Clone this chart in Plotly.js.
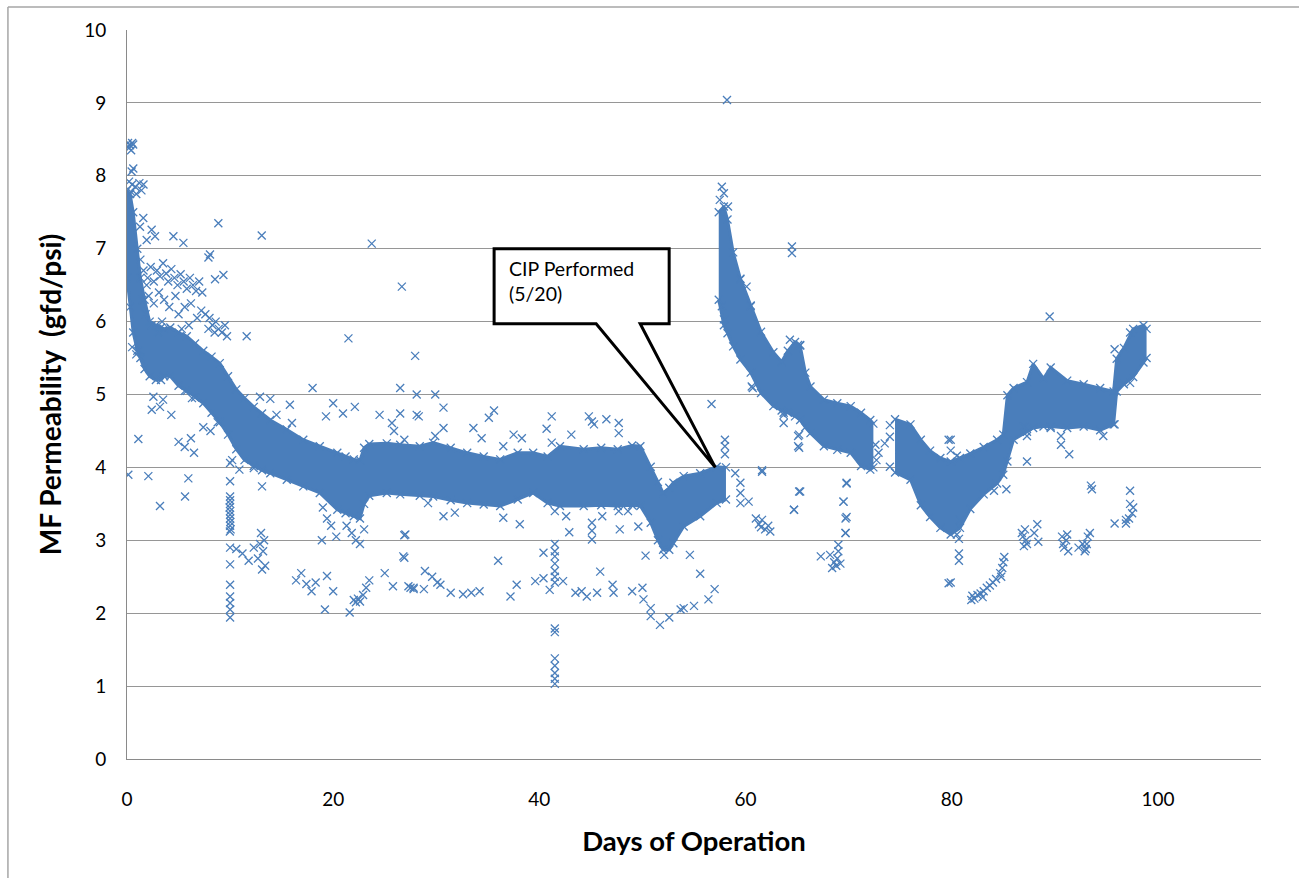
<!DOCTYPE html>
<html>
<head>
<meta charset="utf-8">
<script src="https://cdn.plot.ly/plotly-3.0.1.min.js"></script>
<style>html,body{margin:0;padding:0;background:#fff;}#chart{width:1299px;height:878px;}</style>
</head>
<body>
<div id="chart"></div>
<script>
// ---- Data ----
// Dense band before the CIP (days, upper / lower edge of permeability)
var bandA_days = [0.0,0.3,0.6,1.0,1.3,1.7,2.2,2.8,3.3,3.6,4.2,5.0,5.8,6.6,7.4,8.2,9.0,9.8,10.6,11.4,12.3,13.1,13.9,15.5,17.1,18.7,20.4,21.2,22.0,22.6,23.0,23.5,25.2,26.5,28.4,29.7,31.4,33.0,34.6,36.2,37.9,39.4,40.8,42.0,44.3,46.0,47.6,49.0,49.8,50.8,51.5,52.0,52.6,53.0,54.0,55.6,57.2,58.1];
var bandA_top  = [7.8,7.75,7.5,7.0,6.6,6.3,6.0,5.95,5.92,5.9,5.92,5.85,5.8,5.7,5.6,5.52,5.43,5.25,5.07,4.95,4.83,4.74,4.65,4.52,4.38,4.29,4.2,4.15,4.11,4.1,4.27,4.32,4.33,4.31,4.29,4.34,4.27,4.2,4.15,4.11,4.2,4.2,4.15,4.29,4.25,4.27,4.25,4.3,4.29,4.01,3.8,3.65,3.72,3.79,3.88,3.92,4.01,4.0];
var bandA_bot  = [6.6,6.2,5.85,5.6,5.5,5.35,5.25,5.2,5.2,5.25,5.25,5.12,5.05,4.96,4.88,4.75,4.62,4.45,4.25,4.1,4.02,3.96,3.92,3.83,3.74,3.65,3.42,3.37,3.33,3.3,3.5,3.61,3.65,3.63,3.61,3.6,3.55,3.51,3.49,3.47,3.56,3.65,3.51,3.47,3.47,3.48,3.47,3.48,3.47,3.24,3.0,2.87,2.87,2.96,3.19,3.33,3.51,3.56];
// Dense band right after the CIP
var bandB_days = [57.4,57.9,58.25,58.8,59.5,60.5,61.5,62.7,63.5,64.1,64.8,65.3,65.8,66.3,67.6,68.9,70.2,71.2,72.1,72.4];
var bandB_top  = [7.5,7.58,7.4,6.95,6.59,6.22,5.86,5.58,5.45,5.6,5.72,5.67,5.3,5.11,4.93,4.88,4.84,4.75,4.65,4.6];
var bandB_bot  = [6.3,5.95,5.84,5.66,5.48,5.3,5.02,4.84,4.78,4.75,4.7,4.65,4.55,4.47,4.29,4.24,4.2,4.02,3.97,4.0];
// Dense band from day 74.5 to the end
var bandC_days = [74.5,76.0,77.0,77.9,78.9,79.9,80.8,81.8,83.1,84.4,85.0,85.4,86.0,87.3,87.9,88.9,89.6,91.2,92.8,94.4,95.7,96.0,96.7,97.6,98.6,98.9];
var bandC_top  = [4.66,4.59,4.38,4.23,4.13,4.08,4.13,4.19,4.28,4.38,4.45,4.99,5.09,5.17,5.42,5.22,5.37,5.19,5.14,5.09,5.04,5.49,5.64,5.90,5.95,5.9];
var bandC_bot  = [3.93,3.83,3.48,3.32,3.17,3.08,3.17,3.43,3.63,3.78,3.9,4.08,4.38,4.49,4.54,4.56,4.56,4.54,4.56,4.51,4.59,5.04,5.14,5.24,5.44,5.5];

// Scattered readings before the CIP
var scatterPre_days = [0.1,0.3,0.5,0.2,0.4,0.6,0.05,0.61,0.45,0.2,0.5,0.8,1.2,1.6,0.4,0.9,1.4,
 8.86,13.07,23.74,26.66,21.48,11.61,27.95,1.58,2.39,2.72,1.26,1.91,4.5,5.47,8.05,9.35,8.54,7.9,
 1.3,1.6,2.0,2.3,2.6,2.9,3.2,3.5,3.8,4.0,4.3,4.6,4.9,5.2,5.5,5.8,6.1,6.4,6.7,7.0,7.3,2.1,2.6,3.1,3.6,4.1,4.7,5.0,5.6,6.2,6.8,7.2,7.6,8.0,8.3,8.6,8.9,9.2,9.5,9.7,7.9,8.5,2.4,3.0,3.4,1.8,1.5,1.9,6.0,5.3,
 0.5,0.9,1.2,2.56,3.2,4.3,3.5,2.4,1.1,0.13,2.07,3.2,5.63,5.95,5.0,5.6,6.2,6.5,7.4,8.1,8.8,5.6,6.3,
 10.0,10.0,10.0,10.0,10.0,10.05,9.95,10.0,10.02,10.0,9.98,10.0,10.0,10.0,10.0,10.0,10.0,10.0,10.0,10.0,
 10.6,11.2,11.8,12.3,12.7,13.0,13.2,13.4,13.1,12.9,13.3,13.1,10.9,12.3,10.2,
 16.4,16.9,17.4,17.9,18.3,19.4,19.2,20.0,21.6,22.0,22.2,22.4,22.6,22.9,23.2,23.5,25.0,25.8,27.5,27.8,26.8,27.0,
 19.0,19.4,19.8,20.3,18.9,21.3,21.8,22.2,22.6,23.0,
 18.0,20.0,20.95,22.1,19.3,24.5,26.5,26.5,25.7,25.9,28.1,28.1,13.9,15.8,16.0,14.5,12.9,
 29.9,30.7,28.3,30.7,29.9,26.9,33.6,34.4,35.1,35.6,37.5,38.3,36.5,41.2,40.7,43.1,41.2,44.8,45.3,46.5,47.7,47.7,45.1,56.7,58.0,58.0,58.0,
 30.7,31.8,29.2,36.5,38.1,41.5,42.6,42.9,45.1,45.1,45.1,46.1,47.7,47.8,48.6,49.6,26.9,26.9,36.0,
 41.5,41.5,41.5,41.5,41.5,41.5,41.5,40.4,42.3,41.0,41.5,41.5,41.5,41.5,41.5,41.5,41.5,
 27.3,27.8,28.8,28.9,29.6,30.1,30.4,31.4,32.6,33.4,34.2,37.2,37.8,39.6,40.4,43.5,44.1,44.6,45.6,45.9,47.1,47.2,49.0,50.0,50.1,50.8,50.8,51.7,52.6,53.7,54.0,55.0,56.4,57.0,55.6,54.6,52.1,50.3];
var scatterPre_perm = [8.45,8.42,8.45,8.38,8.35,8.43,8.40,8.10,8.06,7.92,7.88,7.85,7.9,7.88,7.78,7.75,7.8,
 7.35,7.18,7.07,6.48,5.77,5.80,5.53,7.42,7.26,7.17,7.30,7.12,7.17,7.08,6.92,6.64,6.58,6.88,
 6.85,6.7,6.6,6.75,6.55,6.7,6.62,6.8,6.66,6.55,6.72,6.6,6.5,6.65,6.55,6.45,6.6,6.5,6.42,6.55,6.4,6.35,6.25,6.4,6.3,6.2,6.35,6.1,6.2,6.25,6.05,6.15,6.1,6.05,5.95,6.0,5.9,5.85,5.95,5.8,5.9,5.85,5.95,5.85,6.0,6.1,6.3,6.5,5.95,5.9,
 5.65,5.55,5.6,4.97,4.83,4.72,4.93,4.79,4.39,3.90,3.88,3.47,3.60,3.85,4.35,4.28,4.4,4.2,4.55,4.5,4.62,5.05,4.95,
 3.6,3.5,3.4,3.3,3.2,3.15,3.45,3.55,3.25,3.35,3.12,4.06,3.81,2.90,2.67,2.39,2.23,2.14,2.05,1.94,
 2.88,2.82,2.72,2.9,2.75,3.1,2.85,2.65,2.6,2.95,3.0,3.74,3.97,3.99,4.1,
 2.45,2.55,2.4,2.3,2.42,2.51,2.05,2.3,2.01,2.18,2.15,2.2,2.16,2.25,2.35,2.45,2.55,2.37,2.35,2.33,2.78,3.08,
 3.45,3.3,3.2,3.05,3.0,3.2,3.1,3.0,2.95,3.15,
 5.09,4.88,4.74,4.83,4.7,4.72,5.09,4.74,4.61,4.5,5.0,4.72,4.94,4.86,4.61,4.72,4.97,
 5.0,4.82,4.70,4.54,4.43,4.38,4.54,4.40,4.68,4.78,4.45,4.40,4.29,4.70,4.53,4.45,4.34,4.70,4.59,4.66,4.61,4.47,4.63,4.87,4.38,4.29,4.18,
 3.33,3.38,3.51,3.31,3.22,3.40,3.33,3.11,3.24,3.13,3.01,3.33,3.40,3.15,3.40,3.19,3.07,2.76,2.72,
 2.95,2.85,2.78,2.68,2.58,2.5,2.42,2.83,2.44,2.32,1.79,1.74,1.38,1.28,1.18,1.10,1.03,
 2.37,2.35,2.33,2.58,2.5,2.42,2.39,2.28,2.26,2.28,2.30,2.23,2.39,2.44,2.48,2.28,2.30,2.23,2.28,2.57,2.39,2.28,2.30,2.35,2.19,2.07,1.96,1.84,1.94,2.05,2.07,2.10,2.19,2.33,2.54,2.80,2.80,2.79];

// Scattered readings after the CIP
var scatterPost_days = [59.0,59.5,59.5,59.5,60.3,61.6,64.7,65.2,61.0,61.3,61.6,61.9,62.2,62.4,61.5,
 67.3,68.2,68.6,68.9,69.2,68.4,69.0,68.8,69.5,69.7,69.8,69.7,69.0,
 63.7,63.7,65.1,65.1,60.7,64.3,65.1,
 58.2,57.7,57.9,57.5,58.3,64.5,64.5,60.1,59.5,60.5,57.7,57.9,65.3,60.6,63.7,65.2,65.2,
 72.6,72.9,72.7,74.0,74.0,74.0,73.5,69.8,69.5,69.8,69.7,65.3,64.7,61.6,79.7,79.7,
 89.5,79.9,79.9,80.5,80.8,80.7,80.7,80.7,79.9,80.5,
 81.9,82.2,82.5,82.8,83.1,83.4,83.7,84.0,84.3,84.7,84.9,85.0,85.1,84.8,83.0,82.0,85.3,84.1,
 86.9,87.1,87.3,87.0,88.0,88.3,88.4,87.2,86.8,87.3,87.3,87.0,90.6,90.6,91.4,89.6,
 90.7,90.9,91.1,91.3,90.8,91.2,92.3,92.7,93.0,93.2,93.4,93.1,92.9,
 93.5,93.6,94.7,95.8,95.8,97.3,97.3,95.8,96.9,97.3,97.3,97.5,97.2,96.9,97.6];
var scatterPost_perm = [3.92,3.79,3.65,3.51,3.53,3.94,3.42,3.67,3.3,3.22,3.28,3.15,3.2,3.12,3.18,
 2.78,2.8,2.7,2.75,2.68,2.62,2.85,2.65,3.53,3.30,3.79,3.1,2.94,
 4.72,4.61,4.43,4.29,5.09,5.75,5.68,
 9.04,7.85,7.76,7.67,7.58,7.03,6.94,6.48,6.58,6.21,6.21,6.03,5.68,5.11,4.75,4.45,4.27,
 4.31,4.20,4.10,4.58,4.42,4.01,4.33,3.78,3.53,3.32,3.10,3.67,3.42,3.96,4.38,2.41,
 6.07,4.38,4.23,4.16,3.28,3.02,2.82,2.72,2.42,3.08,
 2.18,2.2,2.25,2.27,2.3,2.35,2.38,2.42,2.47,2.55,2.62,2.7,2.77,2.5,2.22,2.24,3.70,3.68,
 3.05,3.15,2.95,2.92,3.1,3.22,2.98,3.0,3.1,4.08,4.43,4.56,4.43,4.31,4.18,4.54,
 3.05,2.9,3.0,2.85,2.95,3.08,2.9,2.95,2.88,3.05,3.1,2.95,2.85,
 3.75,3.70,4.43,4.59,5.62,5.85,5.16,3.23,3.28,3.68,3.50,3.37,3.30,3.23,3.45];

var xTickVals = [0,20,40,60,80,100];
var yTickVals = [0,1,2,3,4,5,6,7,8,9,10];
var calloutText = 'CIP Performed<br>(5/20)';

// ---- Styling ----
var BLUE = '#4a7ebb';
var FONT = 'Lato, "Open Sans", "DejaVu Sans", sans-serif';
function mk() { return {symbol: 'x-thin', size: 8, color: BLUE, line: {color: BLUE, width: 1.3}}; }

var traces = [];
function addBand(dx, top, bot) {
  traces.push({x: dx, y: bot, type: 'scatter', mode: 'lines+markers', line: {color: BLUE, width: 3},
               marker: mk(), hoverinfo: 'skip', showlegend: false});
  traces.push({x: dx, y: top, type: 'scatter', mode: 'lines+markers', line: {color: BLUE, width: 3},
               fill: 'tonexty', fillcolor: BLUE, marker: mk(), hoverinfo: 'skip', showlegend: false});
}
addBand(bandA_days, bandA_top, bandA_bot);
addBand(bandB_days, bandB_top, bandB_bot);
addBand(bandC_days, bandC_top, bandC_bot);
traces.push({x: scatterPre_days, y: scatterPre_perm, type: 'scatter', mode: 'markers', marker: mk(), showlegend: false});
traces.push({x: scatterPost_days, y: scatterPost_perm, type: 'scatter', mode: 'markers', marker: mk(), showlegend: false});

var layout = {
  width: 1299, height: 878,
  margin: {l: 127, r: 38, t: 30, b: 119},
  paper_bgcolor: '#ffffff', plot_bgcolor: '#ffffff',
  font: {family: FONT, color: '#000000', size: 19},
  showlegend: false,
  xaxis: {
    range: [0, 110], tickvals: xTickVals, ticks: '', showgrid: false, zeroline: false,
    showline: true, linecolor: '#8a8a8a', linewidth: 1,
    tickfont: {family: FONT, size: 19, color: '#000'}, ticklabelstandoff: 23,
    title: {text: '<b>Days of Operation</b>', font: {family: FONT, size: 27.5, color: '#000'}, standoff: 22},
    automargin: false
  },
  yaxis: {
    range: [0, 10], tickvals: yTickVals, ticks: '', showgrid: true, gridcolor: '#969696', gridwidth: 1,
    zeroline: false, showline: true, linecolor: '#8a8a8a', linewidth: 1,
    tickfont: {family: FONT, size: 19, color: '#000'}, ticklabelstandoff: 16,
    title: {text: '<b>MF Permeability  (gfd/psi)</b>', font: {family: FONT, size: 28, color: '#000'}, standoff: 14},
    automargin: false
  },
  shapes: [
    {type: 'path', xref: 'x', yref: 'y', layer: 'above',
     path: 'M 35.61,7.0 L 52.59,7.0 L 52.59,5.97 L 49.78,5.97 L 57.06,4.0 L 45.51,5.97 L 35.61,5.97 Z',
     fillcolor: '#ffffff', line: {color: '#000000', width: 3}},
    {type: 'line', xref: 'paper', yref: 'paper', x0: -0.1050, x1: -0.1050, y0: -0.2, y1: 1.0316, line: {color: '#a6a6a6', width: 1.5}},
    {type: 'line', xref: 'paper', yref: 'paper', x0: -0.1050, x1: 1.05, y0: 1.0316, y1: 1.0316, line: {color: '#a6a6a6', width: 1.5}}
  ],
  annotations: [
    {xref: 'x', yref: 'y', x: 36.9, y: 6.92, xanchor: 'left', yanchor: 'top', align: 'left', showarrow: false,
     text: calloutText, font: {family: FONT, size: 19.5, color: '#000'}}
  ]
};

Plotly.newPlot('chart', traces, layout, {displayModeBar: false, staticPlot: true});
</script>
</body>
</html>
